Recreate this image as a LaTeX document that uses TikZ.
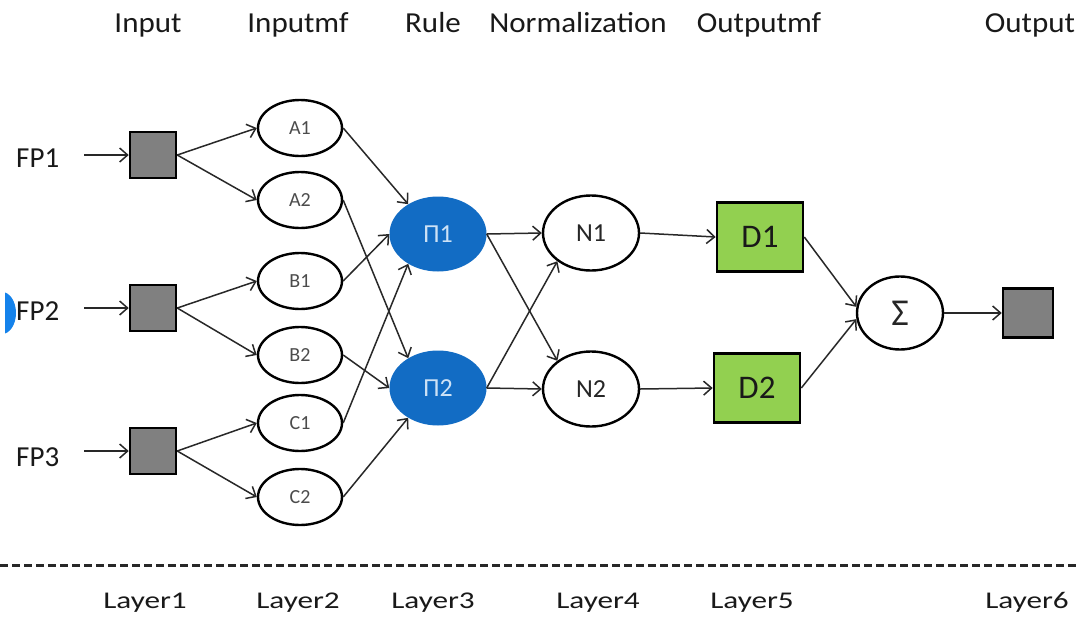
\documentclass[tikz,border=0pt]{standalone}
\usepackage{fontspec}
\setmainfont{Carlito}
\usetikzlibrary{shapes.geometric,arrows.meta}
\definecolor{rulblue}{RGB}{18,108,196}
\definecolor{blobblue}{RGB}{20,130,235}
\definecolor{dgreen}{RGB}{146,208,80}
\definecolor{sqgray}{RGB}{128,128,128}
\definecolor{linec}{RGB}{40,40,40}
\definecolor{rultext}{RGB}{205,226,246}
\begin{document}
\begin{tikzpicture}[x=1pt,y=-1pt,
  conn/.style={draw=linec,line width=1.5pt,-{Straight Barb[length=8pt,width=14pt,line width=1.5pt]}},
  hdr/.style={font=\fontsize{29}{32}\selectfont,text=black!90,anchor=base,inner sep=0pt,xscale=1.07,transform shape},
  lyr/.style={font=\fontsize{24}{28}\selectfont,text=black!90,anchor=base,inner sep=0pt,xscale=1.3,transform shape},
  fp/.style={font=\fontsize{29}{32}\selectfont,text=black!90,anchor=base west,inner sep=0pt},
  sq/.style={rectangle,draw=black,fill=sqgray,line width=2.5pt,minimum width=46pt,minimum height=46pt,inner sep=0pt},
  mf/.style={ellipse,draw=black,line width=2.4pt,minimum width=84pt,minimum height=56pt,inner sep=0pt,font=\fontsize{20}{22}\selectfont,text=black!70},
  rul/.style={ellipse,fill=rulblue,minimum width=97pt,minimum height=75pt,inner sep=0pt,font=\fontsize{26}{28}\selectfont,text=rultext},
  nrm/.style={ellipse,draw=black,line width=2.4pt,minimum width=96pt,minimum height=75pt,inner sep=0pt,font=\fontsize{26}{28}\selectfont,text=black!85},
  dbox/.style={rectangle,draw=black,fill=dgreen,line width=2.6pt,minimum width=86pt,minimum height=69pt,inner sep=0pt,font=\fontsize{33}{36}\selectfont,text=black!90},
  sumn/.style={ellipse,draw=black,line width=2.4pt,minimum width=86pt,minimum height=73pt,inner sep=0pt,font=\fontsize{38}{40}\selectfont,text=black!85}
]
\useasboundingbox (0,0) rectangle (1079,616);
\fill[white] (0,0) rectangle (1079,616);

% stray blue blob at left edge
\begin{scope}
\clip (5,0) rectangle (40,616);
\fill[blobblue] (2,313) ellipse [x radius=14pt, y radius=21pt];
\end{scope}

% headers
\node[hdr] (h1) at (148,32) {Input};
\node[hdr] (h2) at (298,32) {Inputmf};
\node[hdr] (h3) at (433,32) {Rule};
\node[hdr] (h4) at (578,32) {Normalization};
\node[hdr] (h5) at (759,32) {Outputmf};
\node[hdr] (h6) at (1030,32) {Output};

% input labels
\node[fp] (fp1) at (16,167) {FP1};
\node[fp] (fp2) at (16,320) {FP2};
\node[fp] (fp3) at (16,466) {FP3};

% input squares
\node[sq] (s1) at (153,155) {};
\node[sq] (s2) at (153,308) {};
\node[sq] (s3) at (153,451) {};

% membership ellipses
\node[mf] (a1) at (300,128) {A1};
\node[mf] (a2) at (300,200) {A2};
\node[mf] (b1) at (300,281) {B1};
\node[mf] (b2) at (300,355) {B2};
\node[mf] (c1) at (300,423) {C1};
\node[mf] (c2) at (300,497) {C2};

% rules
\node[rul] (p1) at (438,234) {Π1};
\node[rul] (p2) at (438,388) {Π2};

% normalization
\node[nrm] (n1) at (591,233) {N1};
\node[nrm] (n2) at (591,389) {N2};

% output mf
\node[dbox] (d1) at (760,237) {D1};
\node[dbox] (d2) at (757,388) {D2};

% sum and output
\node[sumn] (sg) at (900,313) {Σ};
\node[sq,minimum width=50pt,minimum height=49pt] (out) at (1028,313) {};

% connectors
\draw[conn] ([xshift=25pt]fp1.east |- s1.west) -- (s1.west);
\draw[conn] ([xshift=25pt]fp2.east |- s2.west) -- (s2.west);
\draw[conn] ([xshift=25pt]fp3.east |- s3.west) -- (s3.west);

\draw[conn] (s1.east) -- (a1.west);
\draw[conn] (s1.east) -- (a2.west);
\draw[conn] (s2.east) -- (b1.west);
\draw[conn] (s2.east) -- (b2.west);
\draw[conn] (s3.east) -- (c1.west);
\draw[conn] (s3.east) -- (c2.west);

\draw[conn] (a1.east) -- (p1.135);
\draw[conn] (b1.east) -- (p1.west);
\draw[conn] (c1.east) -- (p1.225);
\draw[conn] (a2.east) -- (p2.135);
\draw[conn] (b2.east) -- (p2.west);
\draw[conn] (c2.east) -- (p2.225);

\draw[conn] (p1.east) -- (n1.west);
\draw[conn] (p1.east) -- (n2.140);
\draw[conn] (p2.east) -- (n1.220);
\draw[conn] (p2.east) -- (n2.west);

\draw[conn] (n1.east) -- (d1.west);
\draw[conn] (n2.east) -- (d2.west);

\draw[conn] (d1.east) -- (sg.172);
\draw[conn] (d2.east) -- (sg.188);
\draw[conn] (sg.east) -- (out.west);

% dashed separator
\coordinate (dl) at (0,565);
\coordinate (dr) at (1079,565);
\draw[linec,line width=3pt,dash pattern=on 8pt off 4pt] (dl) -- (dr);

% layer labels
\node[lyr] (l1) at (145,608) {Layer1};
\node[lyr] (l2) at (298,608) {Layer2};
\node[lyr] (l3) at (433,608) {Layer3};
\node[lyr] (l4) at (598,608) {Layer4};
\node[lyr] (l5) at (752,608) {Layer5};
\node[lyr] (l6) at (1027,608) {Layer6};
\end{tikzpicture}
\end{document}
